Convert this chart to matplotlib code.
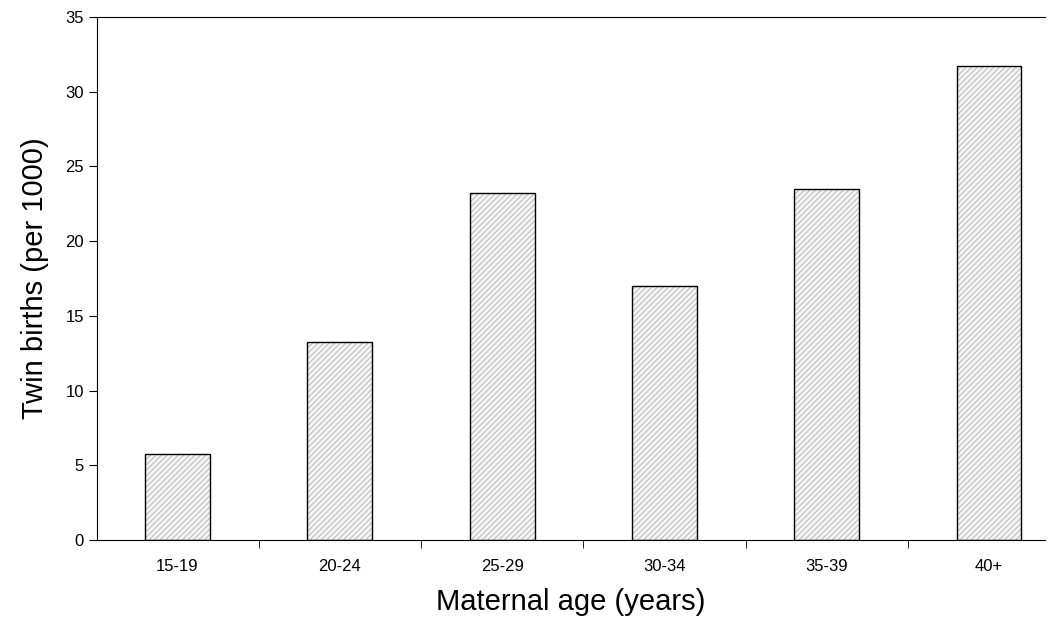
import matplotlib
matplotlib.use("Agg")
import matplotlib.pyplot as plt
import numpy as np

categories = ["15-19", "20-24", "25-29", "30-34", "35-39", "40+"]
values = [5.75, 13.25, 23.2, 17.0, 23.5, 31.7]

plt.rcParams['font.family'] = ['Liberation Sans', 'DejaVu Sans']
plt.rcParams['hatch.linewidth'] = 0.6
fig = plt.figure(figsize=(10.62, 6.37), dpi=100)
ax = fig.add_axes([97/1062, 1-540/637, 948/1062, 523/637])
x = np.arange(len(categories))
ax.bar(x, values, width=0.40, color='#f4f4f4', edgecolor='#b0b0b0', hatch='//////', linewidth=0)
ax.bar(x, values, width=0.40, fill=False, edgecolor='black', linewidth=1)
ax.set_xlim(-0.496, 5.345)
ax.set_ylim(0, 35)
ax.set_yticks(range(0, 36, 5))
ax.set_xticks(x)
ax.set_xticklabels(categories, fontsize=12)
ax.tick_params(axis='x', length=0, pad=14)
ax.set_xticks(np.arange(0.5, len(categories)-1, 1), minor=True)
ax.tick_params(axis='x', which='minor', length=6, direction='out')
ax.tick_params(axis='y', labelsize=12, length=6, direction='out')
ax.spines['right'].set_visible(False)
ax.spines['top'].set_linewidth(0.8)
ax.set_xlabel("Maternal age (years)", fontsize=21, labelpad=10)
ax.set_ylabel("Twin births (per 1000)", fontsize=21, labelpad=12)
fig.savefig("out.png", dpi=100)
